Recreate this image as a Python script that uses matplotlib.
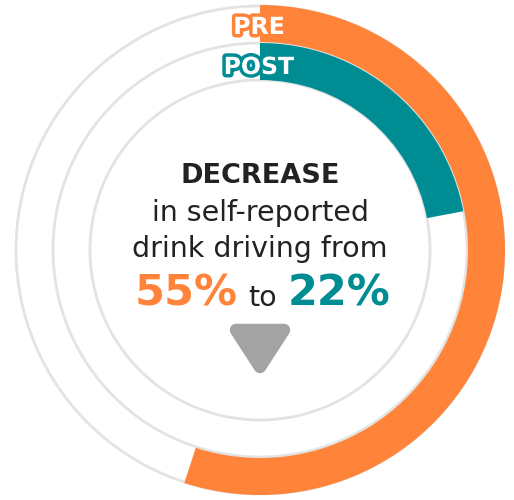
import matplotlib.pyplot as plt
from matplotlib.patches import Wedge, Circle, Polygon
import matplotlib.patheffects as pe

# valores del grafico (porcentaje de conduccion bajo efectos del alcohol)
labels = ["PRE", "POST"]
values = [55, 22]
colors = ["#FF843A", "#008C93"]

W, H = 514, 500
fig = plt.figure(figsize=(W / 100, H / 100), dpi=100)
ax = fig.add_axes([0, 0, 1, 1])
ax.set_xlim(0, W)
ax.set_ylim(H, 0)
ax.axis("off")

cx, cy = 260, 250
grey = "#e3e3e3"

# anillos grises de fondo
for r in [244, 207, 170]:
    ax.add_patch(Circle((cx, cy), r, fill=False, ec=grey, lw=2.0))

# anillos de colores (PRE fuera, POST dentro)
radios = [245, 207]
ancho = 37
for v, c, r in zip(values, colors, radios):
    ax.add_patch(Wedge((cx, cy), r, -90, -90 + 360 * v / 100, width=ancho,
                       fc=c, ec="none"))

# etiquetas PRE / POST
for lab, c, y in zip(labels, colors, [27, 67]):
    ax.text(cx - 1, y, lab, ha="center", va="center", fontsize=17,
            fontweight="bold", family="DejaVu Sans", color="white",
            path_effects=[pe.withStroke(linewidth=5, foreground=c)])

# texto central
txt = "#222222"
fuente = "DejaVu Sans"
ax.text(cx, 183, "DECREASE", ha="center", va="baseline", fontsize=19.5,
        fontweight="bold", color=txt, family=fuente)
ax.text(cx, 221, "in self-reported", ha="center", va="baseline",
        fontsize=20.5, color=txt, family=fuente)
ax.text(cx, 257, "drink driving from", ha="center", va="baseline",
        fontsize=20.5, color=txt, family=fuente)
ax.text(238, 306, f"{values[0]}%", ha="right", va="baseline", fontsize=31,
        fontweight="bold", color=colors[0], family=fuente)
ax.text(263, 306, "to", ha="center", va="baseline", fontsize=20.5,
        color=txt, family=fuente)
ax.text(288, 306, f"{values[1]}%", ha="left", va="baseline", fontsize=31,
        fontweight="bold", color=colors[1], family=fuente)

# flecha hacia abajo
tri = Polygon([[236, 330], [284, 330], [260, 367]], closed=True,
              fc="#a3a3a3", ec="#a3a3a3", lw=9, joinstyle="round")
ax.add_patch(tri)

fig.savefig("out.png", dpi=100)
